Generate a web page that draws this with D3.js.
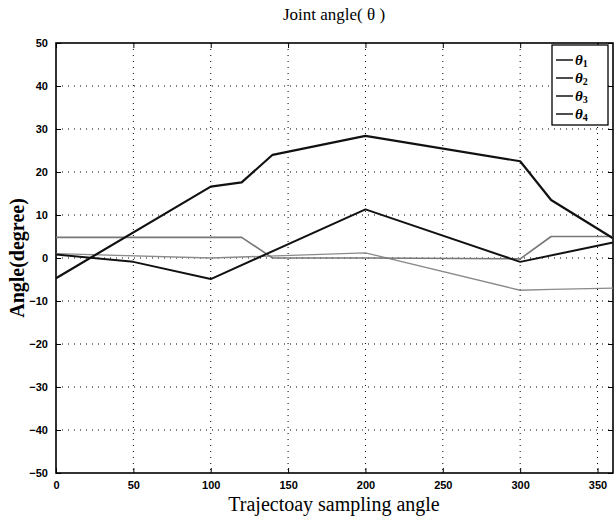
<!DOCTYPE html>
<meta charset="utf-8">
<script src="https://d3js.org/d3.v7.min.js"></script>
<style>
  body { margin: 0; background: #fff; }
  text { fill: #000; }
</style>
<body>
<div id="chart"></div>
<script>
// data
var angles1 = [0, 100, 120, 140, 200, 300, 320, 360];
var theta1 = [-4.7, 16.6, 17.6, 24, 28.4, 22.5, 13.5, 4.6];

var angles2 = [0, 50, 100, 200, 300, 360];
var theta2 = [0.8, -0.9, -4.9, 11.3, -0.9, 3.6];

var angles3 = [0, 120, 140, 200, 300, 320, 360];
var theta3 = [4.8, 4.8, 0, 0, -0.2, 5, 5];

var angles4 = [0, 100, 200, 300, 320, 360];
var theta4 = [1, 0, 1.2, -7.5, -7.3, -7];

var xTicks = [0, 50, 100, 150, 200, 250, 300, 350];
var yTicks = [50, 40, 30, 20, 10, 0, -10, -20, -30, -40, -50];
var legendNames = ["1", "2", "3", "4"];

var W = 614, H = 519;
var svg = d3.select("#chart").append("svg")
  .attr("width", W).attr("height", H);

var x = d3.scaleLinear().domain([0, 360]).range([56, 613]);
var y = d3.scaleLinear().domain([-50, 50]).range([473, 43]);

// grid
svg.append("g").selectAll("line").data(xTicks.slice(1)).enter().append("line")
  .attr("x1", function (d) { return x(d); }).attr("x2", function (d) { return x(d); })
  .attr("y1", y(50)).attr("y2", y(-50))
  .attr("stroke", "#000").attr("stroke-width", 1).attr("stroke-dasharray", "1,5");
svg.append("g").selectAll("line").data(yTicks.slice(1, -1)).enter().append("line")
  .attr("x1", x(0)).attr("x2", x(360))
  .attr("y1", function (d) { return y(d); }).attr("y2", function (d) { return y(d); })
  .attr("stroke", "#000").attr("stroke-width", 1).attr("stroke-dasharray", "1,5");

// axes, ticks inward
svg.append("g").attr("transform", "translate(0," + y(-50) + ")")
  .call(d3.axisBottom(x).tickValues(xTicks).tickSizeInner(-5).tickSizeOuter(0).tickPadding(8))
  .call(function (g) {
    g.select(".domain").remove();
    g.selectAll("text").style("font", "bold 11px 'Liberation Sans', Arial, sans-serif");
  });
svg.append("g").attr("transform", "translate(0," + y(50) + ")")
  .call(d3.axisTop(x).tickValues(xTicks).tickSizeInner(-5).tickSizeOuter(0).tickFormat(""))
  .call(function (g) { g.select(".domain").remove(); });
svg.append("g").attr("transform", "translate(" + x(0) + ",0)")
  .call(d3.axisLeft(y).tickValues(yTicks).tickSizeInner(-5).tickSizeOuter(0).tickPadding(8))
  .call(function (g) {
    g.select(".domain").remove();
    g.selectAll("text").style("font", "bold 11px 'Liberation Sans', Arial, sans-serif");
  });
svg.append("g").attr("transform", "translate(" + x(360) + ",0)")
  .call(d3.axisRight(y).tickValues(yTicks).tickSizeInner(-5).tickSizeOuter(0).tickFormat(""))
  .call(function (g) { g.select(".domain").remove(); });

svg.append("rect")
  .attr("x", x(0)).attr("y", y(50))
  .attr("width", x(360) - x(0)).attr("height", y(-50) - y(50))
  .attr("fill", "none").attr("stroke", "#000").attr("stroke-width", 1.6);

// lines
var line = d3.line()
  .x(function (d) { return x(d[0]); })
  .y(function (d) { return y(d[1]); });

var series = [
  { a: angles4, v: theta4, color: "#8a8a8a", w: 1.3 },
  { a: angles3, v: theta3, color: "#777", w: 1.6 },
  { a: angles2, v: theta2, color: "#111", w: 2 },
  { a: angles1, v: theta1, color: "#111", w: 2.2 }
];
series.forEach(function (s) {
  svg.append("path")
    .datum(d3.zip(s.a, s.v))
    .attr("d", line)
    .attr("fill", "none")
    .attr("stroke", s.color)
    .attr("stroke-width", s.w)
    .attr("stroke-linejoin", "round");
});

// legend
var lg = svg.append("g");
lg.append("rect").attr("x", 552).attr("y", 45).attr("width", 56).attr("height", 80)
  .attr("fill", "#fff").attr("stroke", "#000").attr("stroke-width", 1.3);
legendNames.forEach(function (n, i) {
  var ly = 60 + i * 18;
  lg.append("line").attr("x1", 556).attr("x2", 573).attr("y1", ly).attr("y2", ly)
    .attr("stroke", "#000").attr("stroke-width", 1.4);
  var t = lg.append("text").attr("x", 575).attr("y", ly + 5)
    .style("font", "italic bold 15px 'Liberation Serif', serif");
  t.append("tspan").text("θ");
  t.append("tspan").attr("dy", 2).style("font-size", "10px").style("font-style", "normal").text(n);
});

// titles
svg.append("text").attr("x", 334).attr("y", 20).attr("text-anchor", "middle")
  .style("font", "17px 'Liberation Serif', serif")
  .text("Joint angle( θ )");
svg.append("text").attr("x", 334).attr("y", 511).attr("text-anchor", "middle")
  .style("font", "20px 'Liberation Serif', serif")
  .text("Trajectoay sampling angle");
svg.append("text").attr("transform", "translate(24,258) rotate(-90)").attr("text-anchor", "middle")
  .style("font", "bold 20px 'Liberation Serif', serif")
  .text("Angle(degree)");
</script>
</body>
